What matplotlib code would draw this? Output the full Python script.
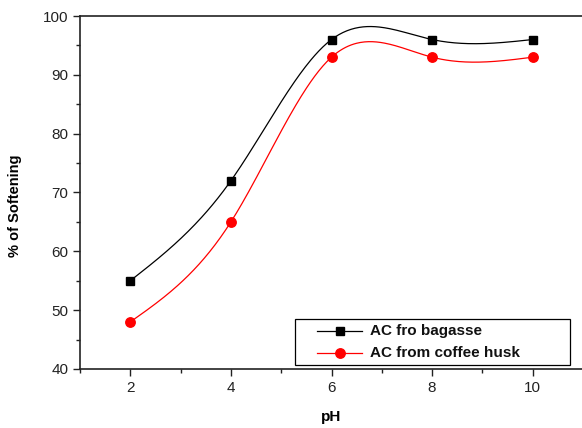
import numpy as np
import matplotlib
matplotlib.use("Agg")
import matplotlib.pyplot as plt
from matplotlib.lines import Line2D
from matplotlib.patches import Rectangle
from matplotlib.ticker import MultipleLocator

ph = [2, 4, 6, 8, 10]
bagasse = [55, 72, 96, 96, 96]
coffee = [48, 65, 93, 93, 93]
labels = ["AC fro bagasse", "AC from coffee husk"]

def natural_spline(x, y, n=300):
    x = np.asarray(x, float); y = np.asarray(y, float)
    k = len(x); h = np.diff(x)
    A = np.zeros((k, k)); b = np.zeros(k)
    A[0, 0] = 1; A[-1, -1] = 1
    for i in range(1, k - 1):
        A[i, i - 1] = h[i - 1]; A[i, i] = 2 * (h[i - 1] + h[i]); A[i, i + 1] = h[i]
        b[i] = 6 * ((y[i + 1] - y[i]) / h[i] - (y[i] - y[i - 1]) / h[i - 1])
    M = np.linalg.solve(A, b)
    xs = np.linspace(x[0], x[-1], n)
    idx = np.clip(np.searchsorted(x, xs) - 1, 0, k - 2)
    x0 = x[idx]; x1 = x[idx + 1]; hh = x1 - x0
    ys = (M[idx] * (x1 - xs) ** 3 / (6 * hh) + M[idx + 1] * (xs - x0) ** 3 / (6 * hh)
          + (y[idx] / hh - M[idx] * hh / 6) * (x1 - xs) + (y[idx + 1] / hh - M[idx + 1] * hh / 6) * (xs - x0))
    return xs, ys

plt.rcParams['font.family'] = ['Liberation Sans', 'DejaVu Sans']
W, H = 582, 428
fig = plt.figure(figsize=(W / 100, H / 100), dpi=100)
ax = fig.add_axes([80 / W, 1 - 369 / H, 503 / W, 353 / H])

styles = [('black', 's', 6.0), ('red', 'o', 6.8)]
for ys, (col, mk, ms) in zip([bagasse, coffee], styles):
    sx, sy = natural_spline(ph, ys)
    ax.plot(sx, sy, color=col, lw=0.9)
    ax.plot(ph, ys, linestyle='none', marker=mk, color=col, markersize=ms)

ax.set_xlim(1, 11)
ax.set_ylim(40, 100)
ax.xaxis.set_major_locator(MultipleLocator(2))
ax.xaxis.set_minor_locator(MultipleLocator(1))
ax.yaxis.set_major_locator(MultipleLocator(10))
ax.yaxis.set_minor_locator(MultipleLocator(5))
ax.tick_params(which='both', direction='out', width=1.0, labelsize=11, colors='#222222')
ax.tick_params(which='major', length=5)
ax.tick_params(which='minor', length=3)
for s in ax.spines.values():
    s.set_linewidth(1.2)
    s.set_color('#222222')

ax.set_xlabel('pH', fontsize=11, fontweight='bold', labelpad=11)
ax.set_ylabel('% of Softening', fontsize=10.5, fontweight='bold')
ax.yaxis.set_label_coords(-0.115, 0.462)

# legend drawn in figure pixel coordinates
def fx(px):
    return px / W

def fy(py):
    return 1 - py / H

fig.add_artist(Rectangle((fx(295), fy(365)), fx(570) - fx(295), fy(319) - fy(365),
                         transform=fig.transFigure, fill=False, edgecolor='black', lw=0.9))
rows = [331, 353]
for (col, mk, ms), lab, ry in zip(styles, labels, rows):
    fig.add_artist(Line2D([fx(317), fx(362)], [fy(ry), fy(ry)], transform=fig.transFigure,
                          color=col, lw=0.9))
    fig.add_artist(Line2D([fx(339.5)], [fy(ry)], transform=fig.transFigure,
                          color=col, marker=mk, markersize=ms, linestyle='none'))
    fig.text(fx(370), fy(ry), lab, fontsize=11, fontweight='bold', va='center', ha='left',
             color='#111111')

fig.savefig('out.png', dpi=100)
